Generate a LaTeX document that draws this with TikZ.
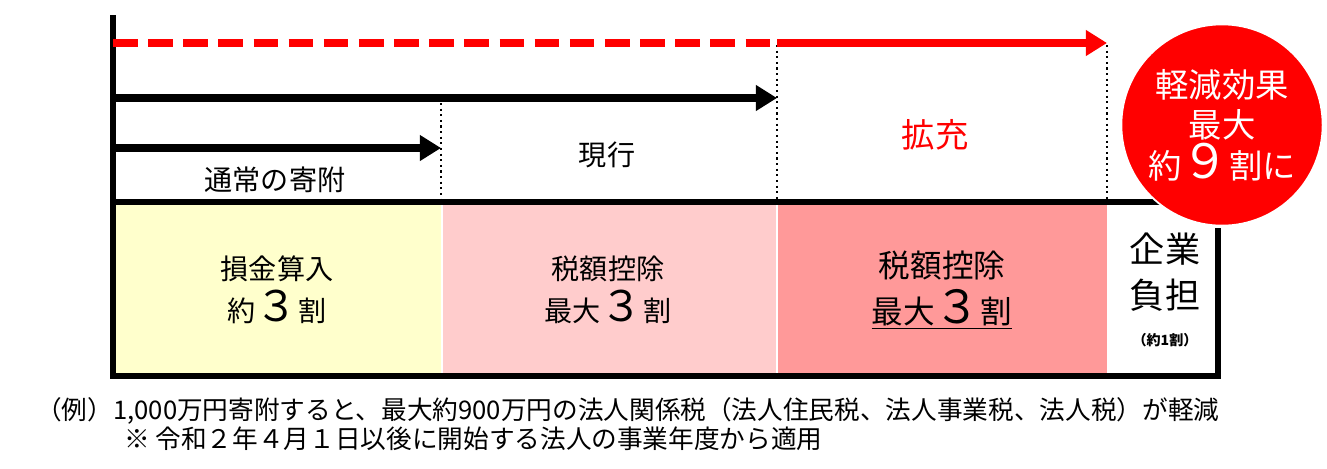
\documentclass[tikz,border=0pt]{standalone}
\usepackage{fontspec}
\newfontfamily\jp{Noto Sans CJK JP}
\usetikzlibrary{arrows.meta}
\definecolor{cellyellow}{RGB}{255,255,204}
\definecolor{celllight}{RGB}{255,204,204}
\definecolor{cellpink}{RGB}{255,153,153}
\tikzset{
  cell/.style={draw=none, inner sep=0pt},
  label/.style={font=\jp\fontsize{16}{20}\selectfont, align=center},
  bigarrow/.style={line width=5pt, -{Triangle[length=12pt,width=14pt]}},
  divider/.style={dotted, line width=1.2pt}
}
\begin{document}
\begin{tikzpicture}[x=0.02cm, y=-0.02cm]
  \useasboundingbox (0,0) rectangle (1327,468);
  % cells
  \fill[cellyellow] (113,202) rectangle (441,376);
  \fill[celllight] (443,202) rectangle (776,376);
  \fill[cellpink] (778,202) rectangle (1107,376);
  % frame
  \draw[line width=3pt] (113,15) -- (113,376) -- (1218,376) -- (1218,228);
  \draw[line width=3pt] (113,202) -- (1160,202);
  % dividers
  \coordinate (d1t) at (441,103); \coordinate (d1b) at (441,202);
  \coordinate (d2t) at (777,45); \coordinate (d2b) at (777,202);
  \coordinate (d3t) at (1107,45); \coordinate (d3b) at (1107,202);
  \draw[divider] (d1t) -- (d1b);
  \draw[divider] (d2t) -- (d2b);
  \draw[divider] (d3t) -- (d3b);
  % arrows
  \coordinate (a0) at (113,43); \coordinate (a1) at (777,43); \coordinate (a2) at (1107,43);
  \draw[red, line width=5pt, dash pattern=on 14pt off 6pt] (a0) -- (a1);
  \draw[red, bigarrow] (a1) -- (a2);
  \coordinate (b0) at (113,98); \coordinate (b1) at (777,98);
  \draw[bigarrow] (b0) -- (b1);
  \coordinate (c0) at (113,148); \coordinate (c1) at (441,148);
  \draw[bigarrow] (c0) -- (c1);
  % labels
  \node[label] (normal) at (275,180) {通常の寄附};
  \node[label] (current) at (607,155) {現行};
  \node[label, red, font=\jp\fontsize{19}{22}\selectfont] (expand) at (935,135) {拡充};
  \node[label] (loss) at (277,290) {損金算入\\[4pt]約{\fontsize{24}{24}\selectfont ３}割};
  \node[label] (credit1) at (608,290) {税額控除\\[4pt]最大{\fontsize{24}{24}\selectfont ３}割};
  \node[label, font=\jp\fontsize{18}{22}\selectfont] (credit2) at (942,290) {税額控除\\[4pt]\underline{最大{\fontsize{26}{26}\selectfont ３}割}};
  \node[label, font=\jp\fontsize{20}{26}\selectfont] (burden) at (1165,272) {企業\\負担};
  \node[label, font=\jp\bfseries\fontsize{8}{10}\selectfont] (burdennote) at (1165,340) {（約1割）};
  % circle
  \node[circle, fill=red, draw=white, line width=1pt, minimum size=202pt*0.02/0.0352778, inner sep=0pt] (effect) at (1222,125) {};
  \node[label, white, font=\jp\fontsize{19}{23}\selectfont] at (effect) {軽減効果\\最大\\約{\fontsize{27}{27}\selectfont ９}割に};
  % notes
  \node[font=\jp\fontsize{14.6}{17}\selectfont, anchor=west] (note1) at (30,411) {（例）1,000万円寄附すると、最大約900万円の法人関係税（法人住民税、法人事業税、法人税）が軽減};
  \node[font=\jp\fontsize{14.6}{17}\selectfont, anchor=west] (note2) at (118,439) {※ 令和２年４月１日以後に開始する法人の事業年度から適用};
\end{tikzpicture}
\end{document}
